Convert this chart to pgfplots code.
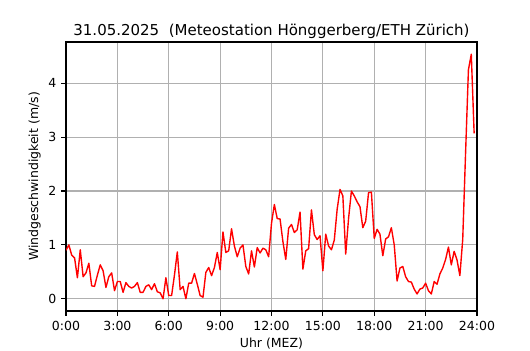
\documentclass[border=0pt]{standalone}
\usepackage{pgfplots}
\usepackage{pgfplotstable}
\pgfplotsset{compat=1.18}
\usepackage{fontspec}
\setmainfont{DejaVu Sans}
\pgfplotstableread{
i v
0 0.90
1 1.00
2 0.81
3 0.76
4 0.39
5 0.91
6 0.41
7 0.48
8 0.66
9 0.24
10 0.23
11 0.44
12 0.63
13 0.52
14 0.21
15 0.41
16 0.48
17 0.15
18 0.32
19 0.32
20 0.12
21 0.30
22 0.23
23 0.20
24 0.23
25 0.30
26 0.12
27 0.12
28 0.23
29 0.26
30 0.17
31 0.28
32 0.13
33 0.11
34 0.00
35 0.39
36 0.06
37 0.06
38 0.44
39 0.87
40 0.17
41 0.23
42 0.00
43 0.29
44 0.29
45 0.47
46 0.27
47 0.06
48 0.03
49 0.49
50 0.58
51 0.43
52 0.58
53 0.86
54 0.54
55 1.24
56 0.86
57 0.89
58 1.30
59 0.98
60 0.78
61 0.94
62 1.00
63 0.60
64 0.46
65 0.89
66 0.59
67 0.95
68 0.85
69 0.94
70 0.91
71 0.78
72 1.40
73 1.75
74 1.49
75 1.48
76 1.06
77 0.73
78 1.31
79 1.38
80 1.23
81 1.28
82 1.61
83 0.55
84 0.89
85 0.93
86 1.65
87 1.19
88 1.10
89 1.17
90 0.52
91 1.20
92 0.98
93 0.91
94 1.09
95 1.66
96 2.03
97 1.91
98 0.83
99 1.49
100 2.00
101 1.91
102 1.80
103 1.71
104 1.32
105 1.44
106 1.97
107 1.98
108 1.12
109 1.29
110 1.20
111 0.80
112 1.11
113 1.15
114 1.32
115 1.00
116 0.33
117 0.57
118 0.60
119 0.41
120 0.32
121 0.31
122 0.18
123 0.09
124 0.18
125 0.20
126 0.29
127 0.15
128 0.09
129 0.32
130 0.27
131 0.46
132 0.57
133 0.73
134 0.96
135 0.63
136 0.88
137 0.72
138 0.43
139 1.10
140 2.70
141 4.25
142 4.54
143 3.07
}\windtable
\definecolor{gridgray}{HTML}{B0B0B0}
\begin{document}
\begin{tikzpicture}
\path[use as bounding box] (-47.52pt,-28.08pt) rectangle (334.08pt,223.92pt);
\begin{axis}[
  at={(0pt,0pt)}, anchor=south west,
  scale only axis,
  width=295.92pt, height=193.68pt,
  xmin=0, xmax=24,
  ymin=-0.227, ymax=4.767,
  xtick={0,3,6,9,12,15,18,21,24},
  xticklabels={0:00,3:00,6:00,9:00,12:00,15:00,18:00,21:00,24:00},
  ytick={0,1,2,3,4},
  /pgf/number format/assume math mode=true,
  tick label style={font=\fontsize{9}{11}\selectfont},
  label style={font=\fontsize{9}{11}\selectfont},
  title style={font=\fontsize{10.8}{13}\selectfont, yshift=-7pt},
  title={31.05.2025\ \ (Meteostation Hönggerberg/ETH Zürich)},
  xlabel={Uhr (MEZ)},
  ylabel={Windgeschwindigkeit (m/s)},
  xlabel style={yshift=1.5pt},
  ylabel style={yshift=-1.5pt},
  grid=major,
  major grid style={gridgray, line width=0.8pt},
  axis line style={black, line width=0.8pt},
  tick style={black, line width=0.8pt},
  tick align=outside,
  major tick length=3.5pt,
  xtick pos=bottom, ytick pos=left,
]
\addplot[red, line width=1pt, line join=round] table[x expr=\thisrow{i}/6, y=v] {\windtable};
\end{axis}
\end{tikzpicture}
\end{document}
